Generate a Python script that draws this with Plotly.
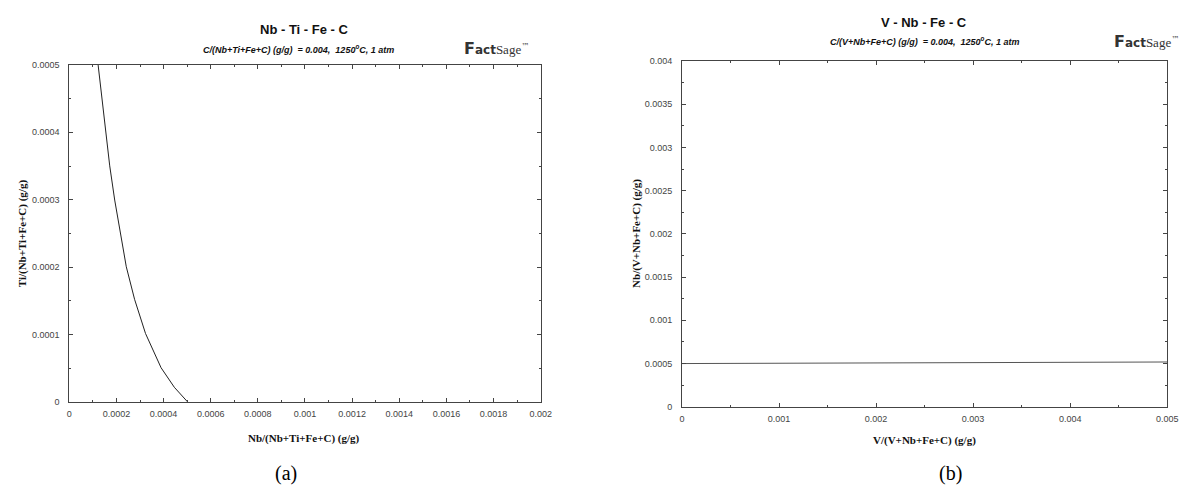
import plotly.graph_objects as go

W, H = 1187, 489

# ---- data (a): Nb-Ti-Fe-C boundary ----
nb_a = [0.0001223, 0.0001434, 0.0001715, 0.0001926, 0.0002165, 0.0002418,
        0.0002769, 0.0003233, 0.0003893, 0.0004455, 0.0005018]
ti_a = [0.0005, 0.0004324, 0.0003502, 0.0002995, 0.0002488, 0.0002005,
        0.0001522, 0.0001015, 0.0000507, 0.0000217, 0.0]

# ---- data (b): V-Nb-Fe-C boundary ----
v_b = [0.0, 0.001, 0.002, 0.003, 0.004, 0.005]
nb_b = [0.0005, 0.000503, 0.000507, 0.00051, 0.000514, 0.000518]

xa_ticks = [0, 0.0002, 0.0004, 0.0006, 0.0008, 0.001, 0.0012, 0.0014, 0.0016, 0.0018, 0.002]
xa_labels = ["0", "0.0002", "0.0004", "0.0006", "0.0008", "0.001", "0.0012", "0.0014", "0.0016", "0.0018", "0.002"]
ya_ticks = [0, 0.0001, 0.0002, 0.0003, 0.0004, 0.0005]
ya_labels = ["0", "0.0001", "0.0002", "0.0003", "0.0004", "0.0005"]
xb_ticks = [0, 0.001, 0.002, 0.003, 0.004, 0.005]
xb_labels = ["0", "0.001", "0.002", "0.003", "0.004", "0.005"]
yb_ticks = [0, 0.0005, 0.001, 0.0015, 0.002, 0.0025, 0.003, 0.0035, 0.004]
yb_labels = ["0", "0.0005", "0.001", "0.0015", "0.002", "0.0025", "0.003", "0.0035", "0.004"]

def px(x):
    return x / W

def py(y):
    return 1 - y / H

fig = go.Figure()
fig.add_trace(go.Scatter(x=nb_a, y=ti_a, mode="lines", line=dict(color="#222", width=1),
                         xaxis="x", yaxis="y", showlegend=False, hoverinfo="skip"))
fig.add_trace(go.Scatter(x=v_b, y=nb_b, mode="lines", line=dict(color="#555", width=1),
                         xaxis="x2", yaxis="y2", showlegend=False, hoverinfo="skip"))

tickfont = dict(family="Liberation Sans, Arial", size=9, color="#444")
common = dict(showgrid=False, zeroline=False, showline=True, linecolor="#444", linewidth=1,
              mirror="ticks", ticks="inside", ticklen=4, tickcolor="#444", tickwidth=1,
              tickfont=tickfont, tickmode="array")

fig.update_layout(
    width=W, height=H, margin=dict(l=0, r=0, t=0, b=0),
    paper_bgcolor="white", plot_bgcolor="white",
    xaxis=dict(domain=[px(59), px(536)], range=[0, 0.002], tickvals=xa_ticks, ticktext=xa_labels,
               anchor="y", ticklabelstandoff=3,
               minor=dict(dtick=0.0001, tick0=0, ticks="inside", ticklen=2, tickcolor="#444"),
               **common),
    yaxis=dict(domain=[py(397), py(53)], range=[0, 0.0005], tickvals=ya_ticks, ticktext=ya_labels,
               anchor="x", ticklabelstandoff=7,
               minor=dict(dtick=0.00005, tick0=0, ticks="inside", ticklen=2, tickcolor="#444"),
               **common),
    xaxis2=dict(domain=[px(679), px(1170)], range=[0, 0.005], tickvals=xb_ticks, ticktext=xb_labels,
                anchor="y2", ticklabelstandoff=3,
                minor=dict(dtick=0.0005, tick0=0, ticks="inside", ticklen=2, tickcolor="#444"),
                **common),
    yaxis2=dict(domain=[py(402), py(49)], range=[0, 0.004], tickvals=yb_ticks, ticktext=yb_labels,
                anchor="x2", ticklabelstandoff=7,
                minor=dict(dtick=0.00025, tick0=0, ticks="inside", ticklen=2, tickcolor="#444"),
                **common),
)

def ann(text, x, y, size, family="Liberation Sans, Arial", color="#111", angle=0):
    fig.add_annotation(text=text, x=px(x), y=py(y), xref="paper", yref="paper",
                       showarrow=False, xanchor="center", yanchor="middle", textangle=angle,
                       font=dict(family=family, size=size, color=color))

# titles
ann("<b>Nb - Ti - Fe - C</b>", 297, 17, 13)
ann("<b><i>C/(Nb+Ti+Fe+C) (g/g) &nbsp;= 0.004, &nbsp;1250<sup>o</sup>C, 1 atm</i></b>", 291, 37, 9)
ann("<b>V - Nb - Fe - C</b>", 924, 10, 13)
ann("<b><i>C/(V+Nb+Fe+C) (g/g) &nbsp;= 0.004, &nbsp;1250<sup>o</sup>C, 1 atm</i></b>", 924, 29, 9)

# logos
logo = ("<span style='font-size:16px'><b>F</b></span><b>act</b>"
        "<span style='font-family:Liberation Sans Narrow; font-size:13px'>Sage</span>"
        "<sup>™</sup>")
ann(logo, 492, 36, 12, family="DejaVu Sans", color="#333")
ann(logo, 1150, 29, 12, family="DejaVu Sans", color="#333")

# axis titles
serif = "Liberation Serif, Times New Roman"
ann("<b>Nb/(Nb+Ti+Fe+C) (g/g)</b>", 297, 434, 11, family=serif)
ann("<b>V/(V+Nb+Fe+C) (g/g)</b>", 924, 436, 11, family=serif)
ann("<b>Ti/(Nb+Ti+Fe+C) (g/g)</b>", 12, 225, 11, family=serif, angle=-90)
ann("<b>Nb/(V+Nb+Fe+C) (g/g)</b>", 633, 225, 11, family=serif, angle=-90)

# panel labels
ann("(a)", 278, 470, 20, family=serif, color="#000")
ann("(b)", 951, 470, 20, family=serif, color="#000")

fig.write_html("out.html")
